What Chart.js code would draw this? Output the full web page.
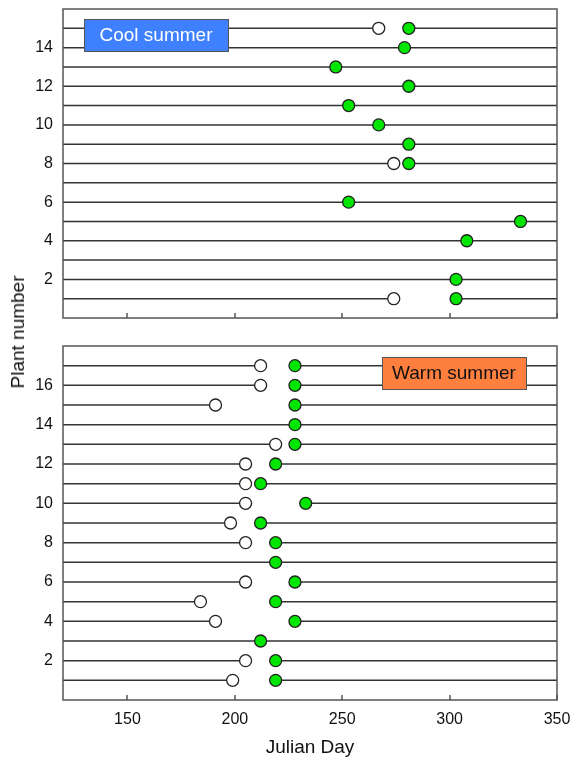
<!DOCTYPE html>
<html>
<head>
<meta charset="utf-8">
<script src="https://cdn.jsdelivr.net/npm/chart.js@4/dist/chart.umd.min.js"></script>
<style>
  html,body{margin:0;padding:0;background:#fff;}
  #wrap{position:relative;width:573px;height:760px;font-family:'Liberation Sans',Arial,sans-serif;}
  canvas{position:absolute;left:0;}
  #cool{top:0;} #warm{top:330px;}
  #ytitle{position:absolute;left:18px;top:332px;transform:translate(-50%,-50%) rotate(-90deg);font-size:19px;color:#111;white-space:nowrap;}
</style>
</head>
<body>
<div id="wrap">
  <canvas id="cool" width="573" height="330"></canvas>
  <canvas id="warm" width="573" height="430"></canvas>
  <div id="ytitle">Plant number</div>
</div>
<script>
/* ===== Phenology dot plot: cool vs warm summer ===== */
// Axis
const X_MIN=120, X_MAX=350;
const X_TICKS=[150,200,250,300,350];

// Cool summer, plants 1..15 (null = no record)
const coolPlants=[1,2,3,4,5,6,7,8,9,10,11,12,13,14,15];
const coolWhite=[274,null,null,null,null,null,null,274,null,null,null,null,null,null,267];
const coolGreen=[303,303,null,308,333,253,null,281,281,267,253,281,247,279,281];

// Warm summer, plants 1..17
const warmPlants=[1,2,3,4,5,6,7,8,9,10,11,12,13,14,15,16,17];
const warmWhite=[199,205,null,191,184,205,null,205,198,205,205,205,219,null,191,212,212];
const warmGreen=[219,219,212,228,219,228,219,219,212,233,212,219,228,228,228,228,228];

const LINE='#333', FRAME='#555';

// Row lines: left edge -> white dot, gap, green dot -> right edge
function rowSegments(plants,white,green){
  const out=[];
  plants.forEach((p,i)=>{
    const segs = white[i]!=null
      ? [[X_MIN,white[i]],[green[i]!=null?green[i]:X_MAX,X_MAX]]
      : [[X_MIN,X_MAX]];
    segs.forEach(([a,b])=>out.push({
      type:'line', data:[{x:a,y:p},{x:b,y:p}], borderColor:LINE, borderWidth:1.5,
      pointRadius:0, order:2
    }));
  });
  return out;
}
const dots=(plants,vals,fill)=>({
  type:'scatter',
  data:plants.map((p,i)=>vals[i]!=null?{x:vals[i],y:p}:null).filter(Boolean),
  backgroundColor:fill, borderColor:'#222', borderWidth:1.3, pointRadius:6, order:0
});

// Frame, inward x ticks, panel label
const panelDeco={
  id:'panelDeco',
  afterDatasetsDraw(chart,args,o){
    const {ctx,chartArea:a,scales:{x}}=chart;
    ctx.save();
    ctx.strokeStyle=FRAME; ctx.lineWidth=1.5;
    ctx.strokeRect(a.left,a.top,a.right-a.left,a.bottom-a.top);
    ctx.beginPath();
    X_TICKS.forEach(v=>{ const px=Math.round(x.getPixelForValue(v)); ctx.moveTo(px,a.bottom); ctx.lineTo(px,a.bottom-5); });
    ctx.stroke();
    // label box
    ctx.fillStyle=o.fill; ctx.fillRect(o.x,o.y,o.w,o.h);
    ctx.strokeStyle='#555'; ctx.lineWidth=1; ctx.strokeRect(o.x+0.5,o.y+0.5,o.w,o.h);
    ctx.fillStyle=o.color; ctx.font="19px 'Liberation Sans', Arial, sans-serif";
    ctx.textAlign='center'; ctx.textBaseline='middle';
    ctx.fillText(o.text,o.x+o.w/2,o.y+o.h/2+1);
    ctx.restore();
  }
};

Chart.defaults.font.family="'Liberation Sans', Arial, sans-serif";
Chart.defaults.color='#111';

function makePanel(id,plants,white,green,yMax,padTop,xHeight,label,showX){
  return new Chart(document.getElementById(id),{
    data:{ datasets:[dots(plants,white,'#fff'),dots(plants,green,'#00e600'),...rowSegments(plants,white,green)] },
    options:{
      responsive:false, animation:false,
      layout:{ padding:{left:0,right:16,top:padTop,bottom:0} },
      plugins:{ legend:{display:false}, tooltip:{enabled:false}, panelDeco:label },
      scales:{
        x:{ type:'linear', min:X_MIN, max:X_MAX,
          afterBuildTicks:s=>{ s.ticks=X_TICKS.map(v=>({value:v})); },
          afterFit:s=>{ s.height=xHeight; s.paddingLeft=0; s.paddingRight=0; },
          grid:{display:false, drawTicks:false}, border:{display:false},
          ticks:{display:showX, font:{size:16}, padding:10, color:'#111', maxRotation:0},
          title:{display:showX, text:'Julian Day', font:{size:19}, padding:{top:0,bottom:1}, color:'#111'} },
        y:{ type:'linear', min:0, max:yMax,
          afterFit:s=>{ s.width=63; s.paddingTop=0; s.paddingBottom=0; },
          grid:{display:false, drawTicks:false}, border:{display:false},
          ticks:{stepSize:2, font:{size:16}, padding:10, color:'#111',
            callback:v=> (v===0||v===yMax)?'':v } }
      }
    },
    plugins:[panelDeco]
  });
}

makePanel('cool',coolPlants,coolWhite,coolGreen,16,9,12,
  {text:'Cool summer',fill:'#3f80ff',color:'#fff',x:84,y:19,w:144,h:32},false);
makePanel('warm',warmPlants,warmWhite,warmGreen,18,16,60,
  {text:'Warm summer',fill:'#ff7f3f',color:'#111',x:382,y:27,w:144,h:32},true);
</script>
</body>
</html>
